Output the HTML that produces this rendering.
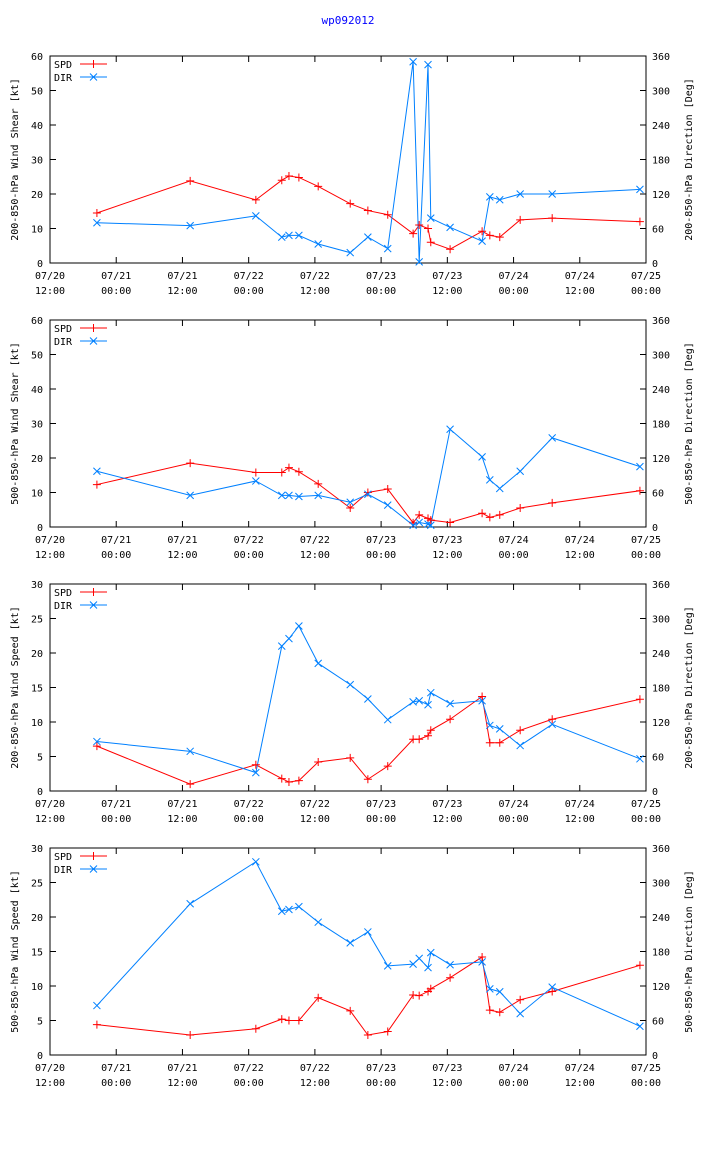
<!DOCTYPE html>
<html><head><meta charset="utf-8">
<style>
body{margin:0;background:#fff;}
svg{display:block;font-family:"DejaVu Sans Mono","Liberation Mono",monospace;font-size:10px;}
</style></head>
<body>
<svg id="chart" width="704" height="1156" xmlns="http://www.w3.org/2000/svg">
<text x="348" y="24" fill="#0000ff" text-anchor="middle" font-size="11">wp092012</text>
</svg>
<script>
const times=[8.5,25.4,37.3,42,43.3,45.1,48.6,54.4,57.6,61.2,65.8,66.9,68.5,69,72.5,78.3,79.7,81.5,85.2,91,106.9];
const xTickLabels1=["07/20","07/21","07/21","07/22","07/22","07/23","07/23","07/24","07/24","07/25"];
const xTickLabels2=["12:00","00:00","12:00","00:00","12:00","00:00","12:00","00:00","12:00","00:00"];
const spd1=[14.5,23.8,18.3,24,25.2,24.8,22.2,17.2,15.2,14,8.5,11,10,6,4,9.2,8,7.5,12.5,13,12];
const dir1=[70,65,82,45,48,48,33,18,45,25,350,2,345,78,62,38,115,110,120,120,128];
const spd2=[12.3,18.5,15.8,15.8,17.2,16,12.5,5.5,10,11,1.2,3.5,2.5,2,1.3,4,2.8,3.5,5.5,7,10.5];
const dir2=[97,55,80,55,55,53,55,43,57,38,3,8,5,3,170,122,82,67,97,155,105];
const spd3=[6.5,1,3.8,1.8,1.3,1.5,4.2,4.8,1.7,3.6,7.5,7.5,8,8.8,10.4,13.7,7,7,8.8,10.4,13.3];
const dir3=[86,69,32,252,265,287,222,185,160,124,155,157,150,171,152,157,114,108,79,116,56];
const spd4=[4.4,2.9,3.8,5.2,5,5,8.3,6.4,2.9,3.4,8.7,8.6,9.2,9.6,11.2,14.2,6.5,6.2,8,9.2,13];
const dir4=[86,263,336,250,253,258,231,195,214,155,158,168,152,178,157,162,115,110,72,118,50];
const panels=[
 {top:56,max:60,step:10,title:"200-850-hPa Wind Shear [kt]",spd:spd1,dir:dir1,name:"shear-200-850"},
 {top:320,max:60,step:10,title:"500-850-hPa Wind Shear [kt]",spd:spd2,dir:dir2,name:"shear-500-850"},
 {top:584,max:30,step:5,title:"200-850-hPa Wind Speed [kt]",spd:spd3,dir:dir3,name:"speed-200-850"},
 {top:848,max:30,step:5,title:"500-850-hPa Wind Speed [kt]",spd:spd4,dir:dir4,name:"speed-500-850"}];
const rightTitles=["200-850-hPa Direction [Deg]","500-850-hPa Direction [Deg]","200-850-hPa Direction [Deg]","500-850-hPa Direction [Deg]"];
const svg=document.getElementById('chart');
const NS="http://www.w3.org/2000/svg";
const L=50,R=646,H=207;
const xs=h=>L+(R-L)*h/108;
function mk(tag,attrs,parent){const e=document.createElementNS(NS,tag);for(const k in attrs)e.setAttribute(k,attrs[k]);(parent||svg).appendChild(e);return e;}
function txt(x,y,s,anchor,parent,extra){const e=mk('text',Object.assign({x:x,y:y,'text-anchor':anchor||'start'},extra||{}),parent);e.textContent=s;return e;}
panels.forEach((p,pi)=>{
 const g=mk('g',{});
 
 
 const T=p.top,B=p.top+H;
 const ysL=v=>B-H*v/p.max, ysR=v=>B-H*v/360;
 const frame=mk('rect',{x:L,y:T,width:R-L,height:H,fill:'none',stroke:'#000','stroke-width':1},g);
 
 
 for(let v=0;v<=p.max;v+=p.step){const y=ysL(v);mk('line',{x1:L,y1:y,x2:L+6,y2:y,stroke:'#000'},g);
  const t=txt(L-7,y+4,String(v),'end',g);}
 for(let v=0;v<=360;v+=60){const y=ysR(v);mk('line',{x1:R-6,y1:y,x2:R,y2:y,stroke:'#000'},g);
  const t=txt(R+6,y+4,String(v),'start',g);}
 xTickLabels1.forEach((lab,i)=>{const x=xs(i*12);mk('line',{x1:x,y1:B,x2:x,y2:B-6,stroke:'#000'},g);mk('line',{x1:x,y1:T,x2:x,y2:T+6,stroke:'#000'},g);
  const t1=txt(x,B+16,lab,'middle',g);
  const t2=txt(x,B+31,xTickLabels2[i],'middle',g);});
 const lt=txt(0,0,p.title,'middle',g,{transform:`translate(18,${T+H/2}) rotate(-90)`});
 
 const rt=txt(0,0,rightTitles[pi],'middle',g,{transform:`translate(692,${T+H/2}) rotate(-90)`});
 
 const spdPts=times.map((t,i)=>xs(t)+','+ysL(p.spd[i])).join(' ');
 const dirPts=times.map((t,i)=>xs(t)+','+ysR(p.dir[i])).join(' ');
 const sl=mk('polyline',{points:spdPts,fill:'none',stroke:'#ff0000','stroke-width':1},g);
 
 const dl=mk('polyline',{points:dirPts,fill:'none',stroke:'#0080ff','stroke-width':1},g);
 
 times.forEach((t,i)=>{const x=xs(t),y=ysL(p.spd[i]);
  const m=mk('path',{d:`M${x-4},${y}H${x+4}M${x},${y-4}V${y+4}`,stroke:'#ff0000'},g);
  
  const y2=ysR(p.dir[i]);
  const n=mk('path',{d:`M${x-3.5},${y2-3.5}L${x+3.5},${y2+3.5}M${x-3.5},${y2+3.5}L${x+3.5},${y2-3.5}`,stroke:'#0080ff'},g);
  });
 const t1=txt(54,T+12,'SPD','start',g);
 mk('path',{d:`M80,${T+8}H107M93.5,${T+4}V${T+12}`,stroke:'#ff0000'},g);
 const t2=txt(54,T+25,'DIR','start',g);
 mk('path',{d:`M80,${T+21}H107M90,${T+17.5}L97,${T+24.5}M90,${T+24.5}L97,${T+17.5}`,stroke:'#0080ff'},g);
});
</script>
</body></html>
